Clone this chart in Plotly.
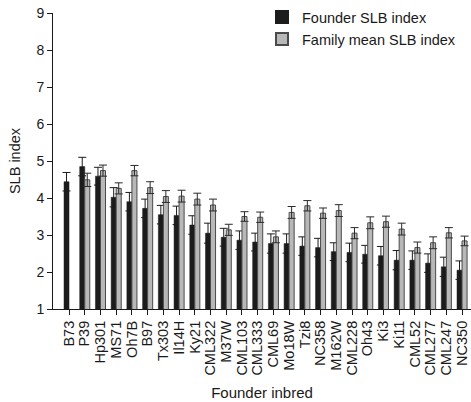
import plotly.graph_objects as go

inbreds = ["B73", "P39", "Hp301", "MS71", "Oh7B", "B97", "Tx303", "Il14H", "Ky21",
           "CML322", "M37W", "CML103", "CML333", "CML69", "Mo18W", "Tzi8", "NC358",
           "M162W", "CML228", "Oh43", "Ki3", "Ki11", "CML52", "CML277", "CML247", "NC350"]

founder = [4.44, 4.85, 4.59, 4.02, 3.90, 3.72, 3.55, 3.53, 3.27,
           3.05, 2.94, 2.86, 2.81, 2.77, 2.77, 2.70, 2.66,
           2.55, 2.53, 2.48, 2.44, 2.32, 2.32, 2.24, 2.14, 2.05]
founder_err = [0.25, 0.25, 0.24, 0.26, 0.25, 0.25, 0.25, 0.25, 0.25,
               0.27, 0.24, 0.25, 0.24, 0.26, 0.26, 0.25, 0.25,
               0.24, 0.25, 0.24, 0.25, 0.26, 0.25, 0.25, 0.26, 0.25]

family = [None, 4.49, 4.74, 4.26, 4.74, 4.28, 4.04, 4.05, 3.97,
          3.81, 3.14, 3.50, 3.48, 2.95, 3.61, 3.79, 3.59,
          3.66, 3.05, 3.33, 3.36, 3.16, 2.66, 2.79, 3.06, 2.84]
family_err = [None, 0.18, 0.15, 0.15, 0.14, 0.16, 0.16, 0.16, 0.16,
              0.16, 0.15, 0.13, 0.14, 0.16, 0.16, 0.14, 0.14,
              0.16, 0.15, 0.16, 0.15, 0.16, 0.15, 0.16, 0.14, 0.13]

FONT = "Liberation Sans, Arial, sans-serif"

fig = go.Figure()
fig.add_trace(go.Bar(
    x=inbreds, y=founder, name="Founder SLB index",
    marker=dict(color="#1c1c1c", line=dict(color="#1c1c1c", width=0.5)),
    error_y=dict(type="data", array=founder_err, color="#1c1c1c", thickness=1, width=4),
))
fig.add_trace(go.Bar(
    x=inbreds, y=family, name="Family mean SLB index",
    marker=dict(color="#b8b8b8", line=dict(color="#4a4a4a", width=1)),
    error_y=dict(type="data", array=family_err, color="#2a2a2a", thickness=1, width=4),
))

fig.update_layout(
    width=471, height=402,
    barmode="group", bargap=0.36, bargroupgap=0.0,
    plot_bgcolor="white", paper_bgcolor="white",
    margin=dict(l=53, r=0, t=13, b=93, autoexpand=False),
    font=dict(family=FONT, size=14, color="#1a1a1a"),
    showlegend=True,
    legend=dict(x=0.5, y=1.04, xanchor="left", yanchor="top",
                bgcolor="rgba(0,0,0,0)", font=dict(size=14.5),
                itemsizing="constant", tracegroupgap=0, itemwidth=30),
    xaxis=dict(
        range=[-1.02, 25.57], showgrid=False, showline=True, linecolor="#1a1a1a", linewidth=1,
        ticks="outside", ticklen=5, tickcolor="#1a1a1a", tickangle=-90,
        tickmode="array", tickvals=inbreds, ticktext=inbreds,
        tickfont=dict(size=14.5), title=dict(text="Founder inbred", font=dict(size=15), standoff=12),
        zeroline=False,
    ),
    yaxis=dict(
        range=[1, 9], dtick=1, showgrid=False, showline=True, linecolor="#1a1a1a", linewidth=1,
        ticks="outside", ticklen=5, tickcolor="#1a1a1a", tickfont=dict(size=14),
        title=dict(text="SLB index", font=dict(size=14.5), standoff=12), zeroline=False,
        ticklabeloverflow="allow",
    ),
)

# remove the default page margin so the figure fills the browser window exactly
fig.write_html("out.html", config={"displayModeBar": False},
               post_script="document.body.style.margin='0';")
